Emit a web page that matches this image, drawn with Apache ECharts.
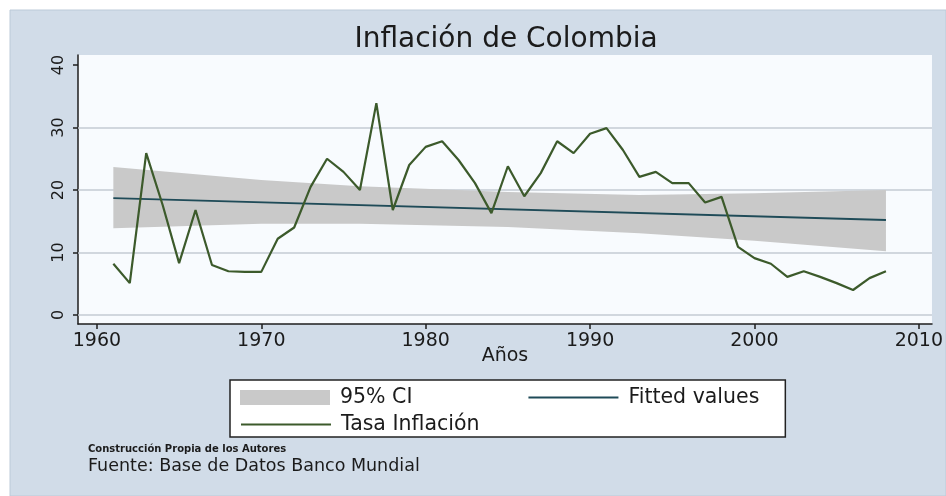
<!DOCTYPE html>
<html>
<head>
<meta charset="utf-8">
<script src="https://cdn.jsdelivr.net/npm/echarts@6/dist/echarts.min.js"></script>
<style>
html,body{margin:0;padding:0;background:#ffffff;}
#c{width:946px;height:496px;}
</style>
</head>
<body>
<div id="c"></div>
<script>
// ---- data ----
const years = [1961,1962,1963,1964,1965,1966,1967,1968,1969,1970,
               1971,1972,1973,1974,1975,1976,1977,1978,1979,1980,
               1981,1982,1983,1984,1985,1986,1987,1988,1989,1990,
               1991,1992,1993,1994,1995,1996,1997,1998,1999,2000,
               2001,2002,2003,2004,2005,2006,2007,2008];
const inflation = [8.2,5.1,25.9,17.6,8.3,16.8,8.0,7.0,6.9,6.9,
                   12.2,14.0,20.5,25.0,22.9,20.0,33.9,16.8,24.0,26.9,
                   27.8,24.8,21.1,16.3,23.8,19.0,22.7,27.8,25.9,29.0,
                   29.9,26.4,22.1,22.9,21.1,21.1,18.0,18.9,10.9,9.1,
                   8.2,6.1,7.0,6.1,5.1,4.0,5.9,7.0];
const fitYears = [1961, 2008];
const fitted = [18.7, 15.2];
const ciYears = [1961, 1970, 1976, 1985, 1993, 2000, 2008];
const ciLower = [13.9, 14.6, 14.6, 14.1, 13.1, 11.9, 10.2];
const ciUpper = [23.7, 21.6, 20.6, 19.7, 19.2, 19.5, 20.0];
const xTicks = [1960, 1970, 1980, 1990, 2000, 2010];
const yTicks = [0, 10, 20, 30, 40];
const gridValues = [0, 10, 20, 30];

const FONT = 'DejaVu Sans';
const TXT = '#1b1b1b';
const NO_SYMBOL = {opacity: 0, color: 'rgba(0,0,0,0)', borderWidth: 0};

const chart = echarts.init(document.getElementById('c'), null, {renderer: 'canvas'});

const option = {
  backgroundColor: '#ffffff',
  animation: false,
  graphic: [
    {type: 'rect', z: -10, silent: true,
     shape: {x: 10, y: 10, width: 936, height: 486},
     style: {fill: '#d1dce8', stroke: '#bccad8', lineWidth: 1}}
  ],
  title: [
    {text: 'Inflación de Colombia', left: 506, top: 26, textAlign: 'center', padding: 0,
     textStyle: {fontFamily: FONT, fontSize: 28, fontWeight: 'normal', color: TXT}},
    {text: 'Construcción Propia de los Autores', left: 88, top: 444, padding: 0,
     textStyle: {fontFamily: FONT, fontSize: 10, fontWeight: 'bold', color: TXT}},
    {text: 'Fuente: Base de Datos Banco Mundial', left: 88, top: 457, padding: 0,
     textStyle: {fontFamily: FONT, fontSize: 17.5, fontWeight: 'normal', color: TXT}}
  ],
  legend: [
    {left: 230, top: 380, orient: 'horizontal', padding: [7, 26, 29, 10],
     itemWidth: 90, itemHeight: 15, itemGap: 115,
     backgroundColor: '#ffffff', borderColor: '#222222', borderWidth: 1.5, borderRadius: 0,
     textStyle: {fontFamily: FONT, fontSize: 20.5, color: TXT, padding: [0, 0, 0, 5]},
     selectedMode: false,
     data: [{name: '95% CI', icon: 'rect', itemStyle: {color: '#c9c9c9'}},
            {name: 'Fitted values', itemStyle: NO_SYMBOL}]},
    {left: 240, top: 414, orient: 'horizontal', padding: 0,
     itemWidth: 90, itemHeight: 15,
     textStyle: {fontFamily: FONT, fontSize: 20.5, color: TXT, padding: [0, 0, 0, 5]},
     selectedMode: false,
     data: [{name: 'Tasa Inflación', itemStyle: NO_SYMBOL}]}
  ],
  grid: {left: 78, right: 13, top: 55, bottom: 172, show: true,
         backgroundColor: '#f8fbfe', borderWidth: 0, containLabel: false},
  xAxis: {
    type: 'value', min: 1958.85, max: 2010.8,
    name: 'Años', nameLocation: 'middle', nameGap: 23, nameMoveOverlap: false,
    nameTextStyle: {fontFamily: FONT, fontSize: 19, color: TXT, verticalAlign: 'top'},
    axisLine: {show: true, onZero: false, lineStyle: {color: '#1e1e1e', width: 1.5}},
    axisTick: {show: true, length: 5, lineStyle: {color: '#1e1e1e', width: 1.5}, customValues: xTicks},
    axisLabel: {fontFamily: FONT, fontSize: 19, color: TXT, margin: 8, customValues: xTicks,
                formatter: v => String(v)},
    splitLine: {show: false}
  },
  yAxis: {
    type: 'value', min: -1.44, max: 41.6,
    axisLine: {show: true, onZero: false, lineStyle: {color: '#1e1e1e', width: 1.5}},
    axisTick: {show: true, length: 5, lineStyle: {color: '#1e1e1e', width: 1.5}, customValues: yTicks},
    axisLabel: {fontFamily: FONT, fontSize: 16, color: TXT, rotate: 90, margin: 11, customValues: yTicks},
    splitLine: {show: false}
  },
  series: [
    {
      type: 'custom', name: '95% CI', z: 2,
      itemStyle: {color: '#c9c9c9'},
      data: ciYears.map((y, i) => [y, ciUpper[i]]),
      renderItem: function (params, api) {
        if (params.dataIndex !== 0) return null;
        const pts = [];
        for (let i = 0; i < ciYears.length; i++) pts.push(api.coord([ciYears[i], ciUpper[i]]));
        for (let i = ciYears.length - 1; i >= 0; i--) pts.push(api.coord([ciYears[i], ciLower[i]]));
        return {type: 'polygon', shape: {points: pts}, style: {fill: '#c9c9c9'}};
      },
      markLine: {
        silent: true, symbol: 'none', z: 1,
        label: {show: false},
        lineStyle: {color: '#c4cbd3', width: 1.5, type: 'solid'},
        data: gridValues.map(v => ({yAxis: v}))
      }
    },
    {
      type: 'line', name: 'Fitted values', z: 3,
      data: fitYears.map((y, i) => [y, fitted[i]]),
      symbol: 'none', showSymbol: false,
      lineStyle: {color: '#1f4b58', width: 2},
      itemStyle: {color: '#1f4b58'}
    },
    {
      type: 'line', name: 'Tasa Inflación', z: 4,
      data: years.map((y, i) => [y, inflation[i]]),
      symbol: 'none', showSymbol: false,
      lineStyle: {color: '#3c5a2b', width: 2.2},
      itemStyle: {color: '#3c5a2b'}
    }
  ]
};
chart.setOption(option);
</script>
</body>
</html>
